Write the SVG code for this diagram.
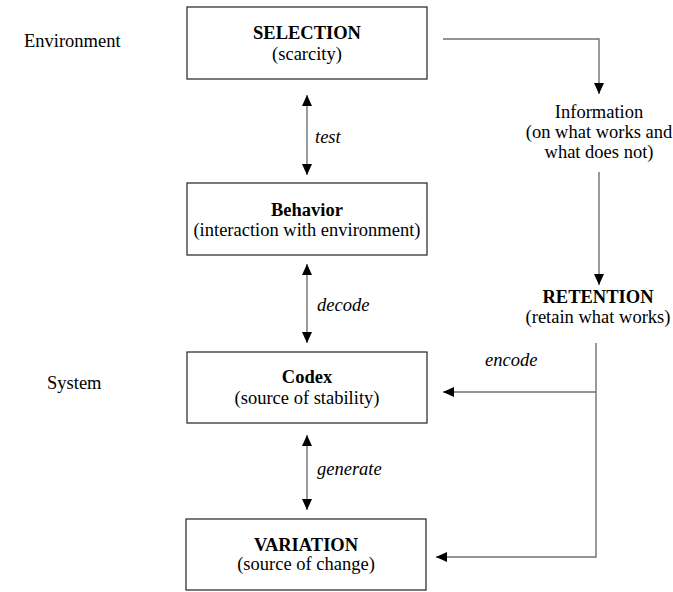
<svg xmlns="http://www.w3.org/2000/svg" width="673" height="592" viewBox="0 0 673 592">
<style>
text{font-family:'Liberation Serif','DejaVu Serif',serif;font-size:18.5px;fill:#000}
.b{font-weight:bold}
.i{font-style:italic}
.c{text-anchor:middle}
.box{fill:#fff;stroke:#222;stroke-width:1.2}
.con{fill:none;stroke:#707070;stroke-width:1.4}
</style>
<defs>
<marker id="ah" markerUnits="userSpaceOnUse" markerWidth="12" markerHeight="12" viewBox="0 0 12 12" refX="11" refY="6" orient="auto-start-reverse">
<path d="M0,1 L11,6 L0,11 Z" fill="#000"/>
</marker>
</defs>
<rect width="673" height="592" fill="#fff"/>
<text x="24" y="47">Environment</text>
<text x="47" y="389">System</text>
<g id="selection"><rect class="box" x="187" y="7" width="240" height="72"/><text class="c b" x="307" y="39">SELECTION</text><text class="c" x="307" y="60">(scarcity)</text></g>
<g id="behavior"><rect class="box" x="187" y="183" width="240" height="72"/><text class="c b" x="307" y="216">Behavior</text><text class="c" x="307" y="236">(interaction with environment)</text></g>
<g id="codex"><rect class="box" x="187" y="352" width="240" height="71"/><text class="c b" x="307" y="383">Codex</text><text class="c" x="307" y="404">(source of stability)</text></g>
<g id="variation"><rect class="box" x="186" y="519" width="240" height="71"/><text class="c b" x="306" y="551">VARIATION</text><text class="c" x="306" y="570">(source of change)</text></g>
<g id="information"><text class="c" x="599" y="118">Information</text><text class="c" x="599" y="138">(on what works and</text><text class="c" x="599" y="158">what does not)</text></g>
<g id="retention"><text class="c b" x="598" y="303">RETENTION</text><text class="c" x="598" y="323">(retain what works)</text></g>
<g id="connectors">
<path class="con" d="M307,95 V175" marker-start="url(#ah)" marker-end="url(#ah)"/>
<path class="con" d="M307,264 V343" marker-start="url(#ah)" marker-end="url(#ah)"/>
<path class="con" d="M307,435 V510" marker-start="url(#ah)" marker-end="url(#ah)"/>
<path class="con" d="M443,39 H599 V94" marker-end="url(#ah)"/>
<path class="con" d="M599,172 V285" marker-end="url(#ah)"/>
<path class="con" d="M596,343 V557 H436" marker-end="url(#ah)"/>
<path class="con" d="M596,392 H443" marker-end="url(#ah)"/>
<text class="i" x="315" y="143">test</text>
<text class="i" x="317" y="311">decode</text>
<text class="i" x="317" y="475">generate</text>
<text class="i" x="485" y="366">encode</text>
</g>
</svg>
